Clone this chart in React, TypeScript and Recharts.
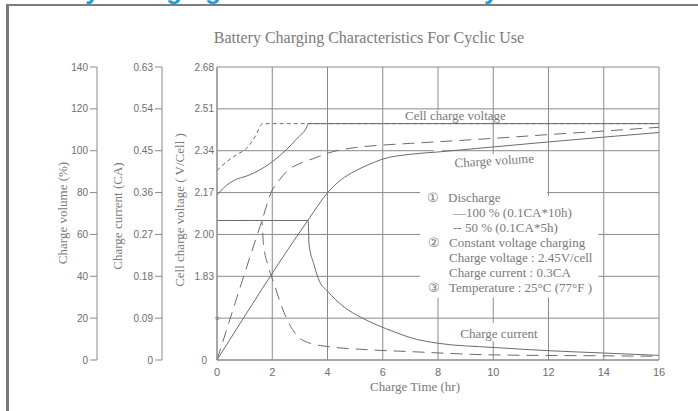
import React from 'react';
import {
  LineChart,
  Line,
  XAxis,
  YAxis,
  CartesianGrid,
  ReferenceArea,
} from 'recharts';

// charge time ticks (hr)
const hourTicks = [0, 2, 4, 6, 8, 10, 12, 14, 16];
const volumeTicks = [0, 20, 40, 60, 80, 100, 120, 140];
const currentTicks = [0, 0.09, 0.18, 0.27, 0.36, 0.45, 0.54, 0.63];
// bottom of the voltage axis is broken: 1.49 is shown as "0", 1.66 as a break mark
const voltageTicks = [1.49, 1.66, 1.83, 2.0, 2.17, 2.34, 2.51, 2.68];

// charge volume (%) — 100% discharge (solid) and 50% discharge (dashed)
const volume100 = [
  { t: 0, q: 0 }, { t: 3.3, q: 66.9 }, { t: 4, q: 79.9 }, { t: 4.5, q: 86.2 },
  { t: 5, q: 90.3 }, { t: 5.5, q: 93.4 }, { t: 6, q: 96.0 }, { t: 7, q: 98.3 },
  { t: 8, q: 99.4 }, { t: 10, q: 101.8 }, { t: 12, q: 104.2 }, { t: 14, q: 106.5 },
  { t: 16, q: 108.7 },
];
const volume50 = [
  { t: 0, q: 0 }, { t: 1.6, q: 65.5 }, { t: 2, q: 81.2 }, { t: 2.2, q: 85 },
  { t: 2.6, q: 91 }, { t: 3, q: 93.9 }, { t: 3.5, q: 96.3 }, { t: 4, q: 98.8 },
  { t: 5, q: 101.5 }, { t: 6, q: 102.7 }, { t: 7, q: 103.5 }, { t: 10, q: 105.9 },
  { t: 12, q: 107.7 }, { t: 14, q: 109.4 }, { t: 16, q: 111.2 },
];

// cell charge voltage (V/cell)
const voltage100 = [
  { t: 0, v: 2.16 }, { t: 0.35, v: 2.2 }, { t: 0.7, v: 2.224 }, { t: 1.07, v: 2.237 },
  { t: 1.55, v: 2.262 }, { t: 2, v: 2.295 }, { t: 2.5, v: 2.343 }, { t: 2.9, v: 2.39 },
  { t: 3.25, v: 2.437 }, { t: 3.3, v: 2.45 }, { t: 16, v: 2.45 },
];
const voltage50 = [
  { t: 0, v: 2.259 }, { t: 0.35, v: 2.295 }, { t: 0.7, v: 2.323 }, { t: 1.07, v: 2.35 },
  { t: 1.38, v: 2.397 }, { t: 1.65, v: 2.45 }, { t: 16, v: 2.45 },
];

// charge current (CA)
const current100 = [
  { t: 0, c: 0.3 }, { t: 3.3, c: 0.3 }, { t: 3.33, c: 0.25 }, { t: 3.5, c: 0.207 },
  { t: 3.72, c: 0.168 }, { t: 4, c: 0.148 }, { t: 4.6, c: 0.114 }, { t: 5.2, c: 0.092 },
  { t: 5.8, c: 0.075 }, { t: 6.4, c: 0.061 }, { t: 7, c: 0.048 }, { t: 8, c: 0.036 },
  { t: 10, c: 0.027 }, { t: 12, c: 0.02 }, { t: 14, c: 0.015 }, { t: 16, c: 0.01 },
];
const current50 = [
  { t: 0, c: 0.3 }, { t: 1.62, c: 0.3 }, { t: 1.68, c: 0.251 }, { t: 1.86, c: 0.201 },
  { t: 2.1, c: 0.158 }, { t: 2.34, c: 0.115 }, { t: 2.64, c: 0.075 }, { t: 2.94, c: 0.05 },
  { t: 3.37, c: 0.036 }, { t: 4, c: 0.029 }, { t: 5.2, c: 0.023 }, { t: 7, c: 0.018 },
  { t: 10, c: 0.011 }, { t: 14, c: 0.009 }, { t: 16, c: 0.008 },
];

// white patches behind the notes, where the grid is not drawn (hr / %)
const gridGaps = [
  { x1: 7.85, x2: 8.15, y1: 30, y2: 119.5 },
  { x1: 9.85, x2: 10.15, y1: 30, y2: 98.4 },
  { x1: 11.85, x2: 12.15, y1: 30, y2: 78.4 },
  { x1: 7.35, x2: 11.95, y1: 30, y2: 81 },
  { x1: 7.35, x2: 13.8, y1: 30, y2: 78.4 },
  { x1: 9.85, x2: 10.15, y1: 9, y2: 17.7 },
];

// axis ids: recharts stacks left axes by id, first one next to the plot
const VOLT = 'a-voltage';
const CURR = 'b-current';
const VOL = 'c-volume';

const LINE = '#6c6c6c';
const GRID = '#8a8a8a';
const TEXT = '#7a7a7a';
const TICK = '#6e6e6e';
const serif = '"Liberation Serif", "Times New Roman", serif';
const sans = '"Liberation Sans", Arial, sans-serif';

const VoltageTick = (props: any) => {
  const { x, y, payload } = props;
  const val = payload.value;
  if (Math.abs(val - 1.66) < 0.001) {
    return (
      <text x={x + 3} y={y} dy="0.35em" textAnchor="middle" fontSize={8} fill={TICK} fontFamily={sans}>
        ≈
      </text>
    );
  }
  if (Math.abs(val - 1.49) < 0.001) {
    return (
      <text x={x - 7} y={y} dy="0.4em" textAnchor="end" fontSize={10} fill={TICK} fontFamily={sans}>
        0
      </text>
    );
  }
  return (
    <text x={x} y={y} dy="0.35em" textAnchor="end" fontSize={10} fill={TICK} fontFamily={sans}>
      {val.toFixed(2)}
    </text>
  );
};

export default function App() {
  return (
    <div style={{ position: 'absolute', left: 0, top: 0, width: 698, height: 411, background: '#fff', overflow: 'hidden' }}>
      <div
        style={{
          position: 'absolute',
          left: 6,
          top: 4,
          width: 692,
          height: 407,
          boxSizing: 'border-box',
          borderLeft: '3px solid #777',
          borderTop: '2px solid #7e7e7e',
        }}
      />
      <div style={{ position: 'absolute', left: 0, top: 0 }}>
        <LineChart width={698} height={411} margin={{ top: 67, right: 39, bottom: 21, left: 37 }}>
          <CartesianGrid yAxisId={VOL} stroke={GRID} strokeWidth={1} />
          <XAxis
            dataKey="t"
            type="number"
            domain={[0, 16]}
            ticks={hourTicks}
            allowDuplicatedCategory={false}
            height={30}
            stroke={GRID}
            tickLine={false}
            tickSize={0}
            tickMargin={8}
            tick={{ fontSize: 11, fill: TICK, fontFamily: sans }}
          />
          <YAxis
            yAxisId={VOLT}
            type="number"
            domain={[1.49, 2.68]}
            ticks={voltageTicks}
            width={55}
            stroke={GRID}
            tickLine={false}
            tickSize={0}
            tickMargin={3}
            tick={<VoltageTick />}
          />
          <YAxis
            yAxisId={CURR}
            type="number"
            domain={[0, 0.63]}
            ticks={currentTicks}
            width={65}
            stroke={GRID}
            tickSize={7}
            tickMargin={2}
            tickFormatter={(v: number) => (v === 0 ? '0' : v.toFixed(2))}
            tick={{ fontSize: 10, fill: TICK, fontFamily: sans }}
          />
          <YAxis
            yAxisId={VOL}
            type="number"
            domain={[0, 140]}
            ticks={volumeTicks}
            width={60}
            stroke={GRID}
            tickSize={7}
            tickMargin={2}
            tick={{ fontSize: 10, fill: TICK, fontFamily: sans }}
          />
          {gridGaps.map((g, i) => (
            <ReferenceArea
              key={i}
              yAxisId={VOL}
              x1={g.x1}
              x2={g.x2}
              y1={g.y1}
              y2={g.y2}
              fill="#fff"
              fillOpacity={1}
              stroke="none"
            />
          ))}
          <Line yAxisId={VOL} data={volume100} dataKey="q" type="monotone" stroke={LINE} strokeWidth={1} dot={false} isAnimationActive={false} />
          <Line yAxisId={VOL} data={volume50} dataKey="q" type="monotone" stroke={LINE} strokeWidth={1} strokeDasharray="12 7" dot={false} isAnimationActive={false} />
          <Line yAxisId={VOLT} data={voltage100} dataKey="v" type="monotone" stroke={LINE} strokeWidth={1} dot={false} isAnimationActive={false} />
          <Line yAxisId={VOLT} data={voltage50} dataKey="v" type="monotone" stroke={LINE} strokeWidth={1} strokeDasharray="4 3" dot={false} isAnimationActive={false} />
          <Line yAxisId={CURR} data={current100} dataKey="c" type="monotone" stroke={LINE} strokeWidth={1} dot={false} isAnimationActive={false} />
          <Line yAxisId={CURR} data={current50} dataKey="c" type="monotone" stroke={LINE} strokeWidth={1} strokeDasharray="12 7" dot={false} isAnimationActive={false} />
        </LineChart>
      </div>
      <svg width={698} height={411} style={{ position: 'absolute', left: 0, top: 0, pointerEvents: 'none' }}>
        <text x={10} y={-1} fontSize={26} fontWeight="bold" fill="#1c9ed8" fontFamily={sans}>
          Battery Charging Characteristics for Cyclic Use
        </text>
        <text x={369} y={43} textAnchor="middle" fontSize={16} fill={TEXT} fontFamily={serif}>
          Battery Charging Characteristics For Cyclic Use
        </text>
        <text transform="translate(67,213) rotate(-90)" textAnchor="middle" fontSize={13} fill={TEXT} fontFamily={serif}>
          Charge volume (%)
        </text>
        <text transform="translate(122,216) rotate(-90)" textAnchor="middle" fontSize={13} fill={TEXT} fontFamily={serif}>
          Charge current (CA)
        </text>
        <text transform="translate(184,210) rotate(-90)" textAnchor="middle" fontSize={13} fill={TEXT} fontFamily={serif}>
          Cell charge voltage ( V/Cell )
        </text>
        <text x={415} y={391} textAnchor="middle" fontSize={13} fill={TEXT} fontFamily={serif}>
          Charge Time (hr)
        </text>
        <text x={405} y={120} fontSize={13} fill={TEXT} fontFamily={serif}>
          Cell charge voltage
        </text>
        <text transform="translate(494.5,165) rotate(-3.5)" textAnchor="middle" fontSize={13} fill={TEXT} fontFamily={serif}>
          Charge volume
        </text>
        <text x={499} y={337.5} textAnchor="middle" fontSize={13} fill={TEXT} fontFamily={serif}>
          Charge current
        </text>
        <g fontSize={13} fill={TEXT} fontFamily={serif} xmlSpace="preserve">
          <text x={427} y={202}>①</text>
          <text x={448} y={202}>Discharge</text>
          <text x={453} y={216.5}>—100 % (0.1CA*10h)</text>
          <text x={453} y={231.5}>{'-- 50  % (0.1CA*5h)'}</text>
          <text x={428} y={246.5}>②</text>
          <text x={449} y={246.5}>Constant voltage charging</text>
          <text x={449} y={261.5}>Charge voltage : 2.45V/cell</text>
          <text x={449} y={276.5}>Charge current : 0.3CA</text>
          <text x={428} y={291.5}>③</text>
          <text x={449} y={291.5}>{'Temperature : 25°C   (77°F )'}</text>
        </g>
      </svg>
    </div>
  );
}
